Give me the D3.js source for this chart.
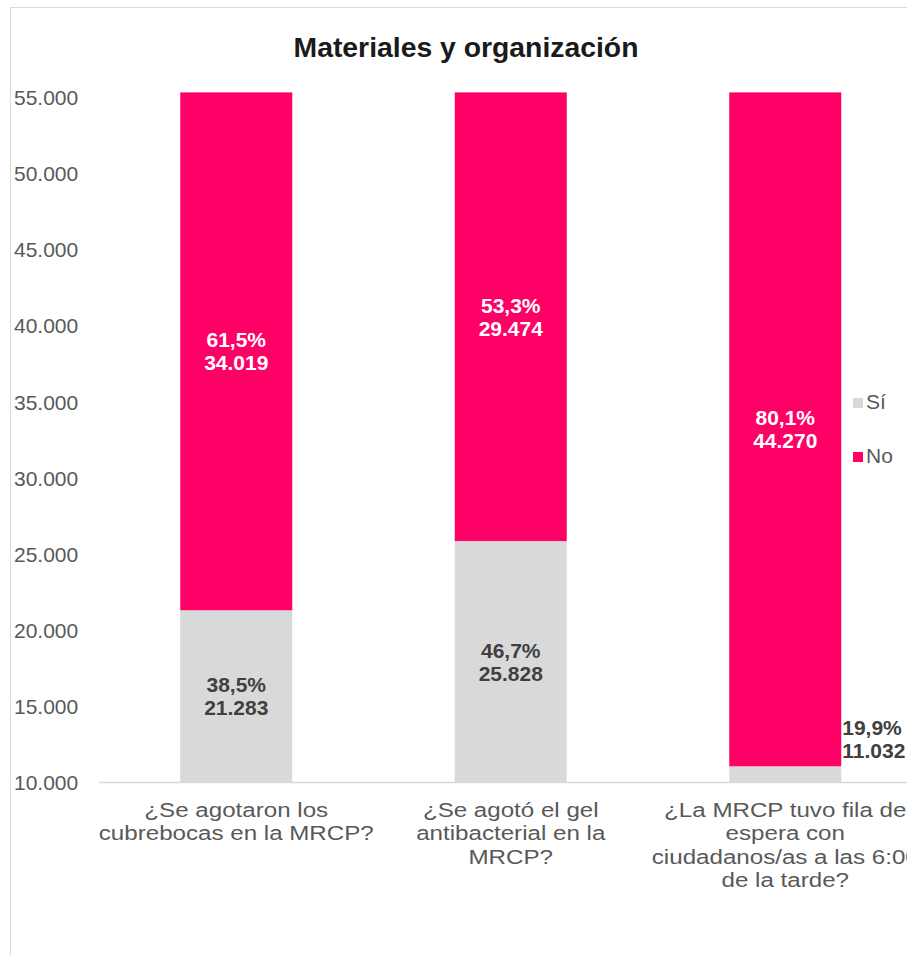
<!DOCTYPE html>
<html>
<head>
<meta charset="utf-8">
<script src="https://cdn.jsdelivr.net/npm/d3@7"></script>
<style>
  body { margin: 0; background: #fff; }
  text { font-family: "Liberation Sans", Arial, sans-serif; }
</style>
</head>
<body>
<svg id="chart"></svg>
<script>
// chart data
var categories = ["cubrebocas", "gel", "fila"]
var categoryLabels = [
        ["¿Se agotaron los", "cubrebocas en la MRCP?"],
        ["¿Se agotó el gel", "antibacterial en la", "MRCP?"],
        ["¿La MRCP tuvo fila de", "espera con", "ciudadanos/as a las 6:00", "de la tarde?"]
]
var siValues = [21283, 25828, 11032]
var noValues = [34019, 29474, 44270]
var seriesNames = ["Sí", "No"]
var yTicks = [10000, 15000, 20000, 25000, 30000, 35000, 40000, 45000, 50000, 55000]

var dimensions = {
        width: 907,
        height: 955,
        margin: { top: 97, bottom: 173, left: 99, right: 0 }
}
dimensions.boundedHeight = dimensions.height - dimensions.margin.top - dimensions.margin.bottom

var locale = d3.formatLocale({ decimal: ",", thousands: ".", grouping: [3], currency: ["", ""] })
var fmtNum = locale.format(",.0f")
var fmtPct = locale.format(".1%")

var colors = { "Sí": "#d9d9d9", "No": "#ff0066" }

var svg = d3.select("#chart")
        .attr("width", dimensions.width)
        .attr("height", dimensions.height)

// chart frame
svg.append("rect")
        .attr("x", 10.5).attr("y", 7.5)
        .attr("width", 920).attr("height", 960)
        .attr("fill", "none")
        .attr("stroke", "#d9d9d9")

svg.append("text")
        .attr("transform", "translate(466,57) scale(1.05,1)")
        .attr("text-anchor", "middle")
        .style("font-size", "27px")
        .style("font-weight", "bold")
        .style("fill", "#1a1a1a")
        .text("Materiales y organización")

var xScale = d3.scaleBand()
        .domain(categories)
        .range([dimensions.margin.left, dimensions.margin.left + 3 * 274.5])
        .paddingInner(0.592)
        .paddingOuter(0.296)

var yScale = d3.scaleLinear()
        .domain([10000, 55000])
        .range([dimensions.margin.top + dimensions.boundedHeight, dimensions.margin.top])

var data = categories.map(function (c, i) {
        var total = siValues[i] + noValues[i]
        return { cat: c, si: siValues[i], no: noValues[i], total: total }
})

var stack = d3.stack().keys(["si", "no"])(data)
var base = yScale.domain()[0]

var groups = svg.selectAll(".series")
        .data(stack)
        .enter()
        .append("g")
        .attr("class", "series")
        .attr("fill", function (d, i) { return colors[seriesNames[i]] })

groups.selectAll("rect")
        .data(function (d) { return d })
        .enter()
        .append("rect")
        .attr("x", function (d) { return xScale(d.data.cat) })
        .attr("width", xScale.bandwidth())
        .attr("y", function (d) { return yScale(d[1]) })
        .attr("height", function (d) { return yScale(Math.max(d[0], base)) - yScale(d[1]) })

// data labels
groups.each(function (s, si) {
        d3.select(this).selectAll("text")
                .data(s)
                .enter()
                .append("text")
                .each(function (d, i) {
                        var v = d[1] - d[0]
                        var top = yScale(d[1])
                        var bottom = yScale(Math.max(d[0], base))
                        var outside = (bottom - top) < 40
                        var x = outside ? xScale(d.data.cat) + xScale.bandwidth() + 1 : xScale(d.data.cat) + xScale.bandwidth() / 2
                        var cy = outside ? 739 : (top + bottom) / 2
                        var t = d3.select(this)
                                .attr("text-anchor", outside ? "start" : "middle")
                                .style("font-size", "21px")
                                .style("font-weight", "bold")
                                .style("fill", si === 1 ? "#ffffff" : "#404040")
                        t.append("tspan").attr("x", x).attr("y", cy - 4).text(fmtPct(v / d.data.total))
                        t.append("tspan").attr("x", x).attr("y", cy + 19).text(fmtNum(v))
                })
})

// y axis
var yAxis = svg.append("g")
        .attr("transform", "translate(14,0)")
        .call(d3.axisLeft(yScale).tickValues(yTicks).tickSize(0).tickFormat(fmtNum).tickPadding(0))
yAxis.select(".domain").remove()
yAxis.selectAll("text")
        .attr("text-anchor", "start")
        .attr("dy", "0.36em")
        .style("font-size", "21px")
        .style("font-family", "Liberation Sans, Arial, sans-serif")
        .style("fill", "#595959")

// x axis
var xAxis = svg.append("g")
        .attr("transform", "translate(0," + yScale(base) + ")")
        .call(d3.axisBottom(xScale).tickSize(0).tickFormat(""))
xAxis.select(".domain")
        .attr("d", "M" + dimensions.margin.left + ",0.5H" + dimensions.width)
        .attr("stroke", "#d9d9d9")
        .attr("stroke-width", 1.5)

xAxis.selectAll(".tick text").remove()
xAxis.selectAll(".tick")
        .append("text")
        .attr("text-anchor", "middle")
        .attr("transform", "scale(1.15,1)")
        .style("font-size", "21px")
        .style("font-family", "Liberation Sans, Arial, sans-serif")
        .style("fill", "#595959")
        .each(function (d, i) {
                var t = d3.select(this)
                categoryLabels[i].forEach(function (line, j) {
                        t.append("tspan").attr("x", 0).attr("y", 35 + j * 23.3).text(line)
                })
        })

// legend
var legend = svg.append("g")
        .selectAll("g")
        .data(seriesNames)
        .enter()
        .append("g")
        .attr("transform", function (d, i) { return "translate(853," + (398 + i * 54) + ")" })
legend.append("rect")
        .attr("width", 10).attr("height", 10)
        .attr("fill", function (d) { return colors[d] })
legend.append("text")
        .attr("x", 13).attr("y", 11)
        .style("font-size", "21px")
        .style("fill", "#595959")
        .text(function (d) { return d })
</script>
</body>
</html>
